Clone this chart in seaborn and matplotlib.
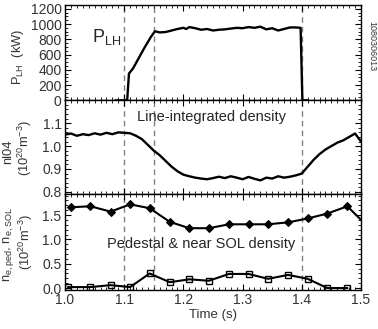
import numpy as np
import pandas as pd
import matplotlib
matplotlib.use("Agg")
import matplotlib.pyplot as plt
from matplotlib.ticker import MultipleLocator, FormatStrFormatter
import seaborn as sns

# --- data ---
plh_t = [1.085, 1.105, 1.108, 1.115, 1.125, 1.135, 1.145, 1.152, 1.16, 1.17, 1.18, 1.19,
         1.20, 1.205, 1.21, 1.22, 1.23, 1.24, 1.25, 1.26, 1.27, 1.28, 1.29, 1.30, 1.31,
         1.32, 1.33, 1.34, 1.35, 1.36, 1.37, 1.38, 1.39, 1.398, 1.401, 1.41]
plh_kw = [0, 0, 350, 420, 560, 700, 830, 905, 890, 895, 915, 935,
          950, 935, 960, 945, 925, 935, 915, 925, 930, 940, 950, 945, 960,
          950, 965, 930, 945, 915, 935, 955, 955, 950, 0, 0]

nl_t = [1.00, 1.01, 1.02, 1.03, 1.04, 1.05, 1.06, 1.07, 1.08, 1.09, 1.10, 1.11, 1.12,
        1.13, 1.14, 1.15, 1.16, 1.17, 1.18, 1.19, 1.20, 1.21, 1.22, 1.23, 1.24, 1.25,
        1.26, 1.27, 1.28, 1.29, 1.30, 1.31, 1.32, 1.33, 1.34, 1.35, 1.36, 1.37, 1.38,
        1.39, 1.40, 1.41, 1.42, 1.43, 1.44, 1.45, 1.46, 1.47, 1.48, 1.49, 1.50]
nl_val = [1.050, 1.055, 1.045, 1.052, 1.048, 1.056, 1.050, 1.058, 1.052, 1.060, 1.058, 1.056, 1.045,
          1.030, 1.005, 0.980, 0.960, 0.935, 0.910, 0.890, 0.875, 0.868, 0.862, 0.858, 0.855, 0.860,
          0.866, 0.860, 0.868, 0.862, 0.855, 0.865, 0.857, 0.850, 0.862, 0.858, 0.868, 0.862, 0.866,
          0.872, 0.880, 0.910, 0.940, 0.965, 0.985, 1.000, 1.015, 1.025, 1.040, 1.055, 1.020]

ped_t = [1.010, 1.043, 1.077, 1.110, 1.143, 1.177, 1.210, 1.243, 1.277, 1.310, 1.343,
         1.377, 1.410, 1.443, 1.477, 1.510]
ped_val = [1.66, 1.68, 1.57, 1.72, 1.64, 1.36, 1.23, 1.23, 1.31, 1.31, 1.31,
           1.35, 1.43, 1.53, 1.68, 1.28]
sol_t = [1.005, 1.043, 1.077, 1.110, 1.143, 1.177, 1.210, 1.243, 1.277, 1.310, 1.343,
         1.377, 1.410, 1.443, 1.477]
sol_val = [0.02, 0.02, 0.06, 0.02, 0.30, 0.12, 0.18, 0.15, 0.29, 0.29, 0.19,
           0.27, 0.19, 0.00, 0.00]

event_times = [1.10, 1.15, 1.40]
x_ticks = [1.0, 1.1, 1.2, 1.3, 1.4, 1.5]

sns.set_style("ticks")
plt.rcParams['font.family'] = ['Liberation Sans', 'DejaVu Sans']
plt.rcParams['mathtext.fontset'] = 'custom'
plt.rcParams['mathtext.rm'] = 'Liberation Sans'
plt.rcParams['mathtext.it'] = 'Liberation Sans'

W, H = 378, 329
fig = plt.figure(figsize=(3.78, 3.29), dpi=100)
left, width = 0.172, 0.783
ax1 = fig.add_axes([left, 0.695, width, 0.29])
ax2 = fig.add_axes([left, 0.410, width, 0.285], sharex=ax1)
ax3 = fig.add_axes([left, 0.1185, width, 0.2915], sharex=ax1)

sns.lineplot(x=plh_t, y=plh_kw, ax=ax1, color='black', lw=1.7)
sns.lineplot(x=nl_t, y=nl_val, ax=ax2, color='black', lw=1.7)
sns.lineplot(x=ped_t, y=ped_val, ax=ax3, color='black', lw=1.5, marker='D',
             markersize=4.5, markeredgecolor='black')
sns.lineplot(x=sol_t, y=sol_val, ax=ax3, color='black', lw=1.5, marker='s',
             markersize=4.5, markerfacecolor='none', markeredgecolor='black',
             markeredgewidth=1.0)

for ax in (ax1, ax2, ax3):
    for t in event_times:
        ax.axvline(t, color='gray', ls=(0, (4, 3)), lw=1.0, zorder=0)
    ax.set_xlim(1.0, 1.5)
    ax.xaxis.set_major_locator(MultipleLocator(0.1))
    ax.xaxis.set_minor_locator(MultipleLocator(0.01))
    ax.tick_params(which='both', direction='in', top=True, right=True, labelsize=10,
                   colors='black', labelcolor='#333333', pad=2.5)
    ax.tick_params(which='major', length=4, width=0.8)
    ax.tick_params(which='minor', length=2, width=0.6)
    for s in ax.spines.values():
        s.set_linewidth(1.0)
        s.set_color('black')
    ax.set_xlabel('')
    ax.set_ylabel('')

ax1.set_ylim(0, 1250)
ax1.set_yticks([0, 200, 400, 600, 800, 1000, 1200])
ax1.yaxis.set_minor_locator(MultipleLocator(50))
ax1.text(1.07, 830, r'P$_{\rm LH}$', fontsize=13, ha='center', va='center')
ax1.tick_params(labelbottom=False)

ax2.set_ylim(0.79, 1.2)
ax2.set_yticks([0.8, 0.9, 1.0, 1.1])
ax2.yaxis.set_major_formatter(FormatStrFormatter('%.1f'))
ax2.yaxis.set_minor_locator(MultipleLocator(0.02))
ax2.text(1.248, 1.128, 'Line-integrated density', fontsize=10.5, ha='center', va='center')
ax2.tick_params(labelbottom=False)

ax3.set_ylim(-0.04, 1.93)
ax3.set_yticks([0.0, 0.5, 1.0, 1.5])
ax3.yaxis.set_major_formatter(FormatStrFormatter('%.1f'))
ax3.yaxis.set_minor_locator(MultipleLocator(0.1))
ax3.text(1.23, 0.9, 'Pedestal & near SOL density', fontsize=10.5, ha='center', va='center')
ax3.set_xticks(x_ticks)
ax3.set_xticklabels([f'{v:.1f}' for v in x_ticks])
ax3.set_xlabel('Time (s)', fontsize=9.5, color='#333333', labelpad=1)

# y-axis titles placed by hand (pixel positions from the reference)
ylab_kw = dict(rotation=90, ha='center', va='center', fontsize=9.3, color='#333333')
fig.text(18 / W, 1 - 57 / H, r'P$_{\rm LH}$  (kW)', **ylab_kw)
fig.text(8 / W, 1 - 152 / H, 'nl04', **ylab_kw)
fig.text(25 / W, 1 - 148 / H, '(10$^{20}$m$^{-3}$)', **ylab_kw)
fig.text(9 / W, 1 - 245 / H, 'n$_{\\rm e,ped}$, n$_{\\rm e,SOL}$', **ylab_kw)
fig.text(26 / W, 1 - 242 / H, '(10$^{20}$m$^{-3}$)', **ylab_kw)

fig.text(0.984, 0.86, '1080306013', rotation=270, fontsize=6.5, ha='center', va='center',
         color='#333333')

fig.savefig('out.png', dpi=100)
